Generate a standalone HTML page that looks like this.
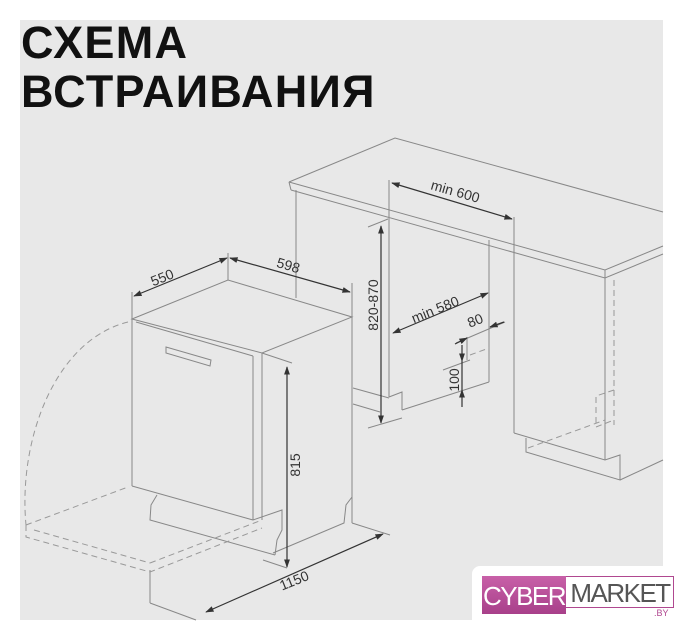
<!DOCTYPE html>
<html><head><meta charset="utf-8"><style>
html,body{margin:0;padding:0;background:#fff;}
body{width:684px;height:640px;position:relative;overflow:hidden;font-family:"Liberation Sans",sans-serif;}
.bg{position:absolute;left:20px;top:20px;width:643px;height:600px;background:#e8e8e8;}
.t{position:absolute;left:21px;font-weight:bold;font-size:45px;color:#111;letter-spacing:1.3px;line-height:1;}
svg{position:absolute;left:0;top:0;}
.logo{position:absolute;left:472px;top:566px;width:212px;height:60px;background:#fff;border-top-left-radius:8px;}
</style></head><body>
<div class="bg"></div>
<div class="t" style="top:20px">СХЕМА</div>
<div class="t" style="top:69px">ВСТРАИВАНИЯ</div>
<svg width="684" height="640" viewBox="0 0 684 640">
<defs>
<marker id="a" viewBox="0 0 10 10" refX="9" refY="5" markerWidth="7" markerHeight="7" orient="auto-start-reverse"><path d="M0,1.5 L10,5 L0,8.5 z" fill="#333"/></marker>
</defs>
<g fill="none" stroke="#888" stroke-width="1">
<polyline points="289,182 395,138 663,212"/>
<polyline points="289,182 605,270 663,246"/>
<polyline points="291,190 605,278 663,254"/>
<line x1="289" y1="182" x2="291" y2="190"/>
<line x1="605" y1="270" x2="605" y2="278"/>
<line x1="296" y1="190" x2="296" y2="298"/>
<line x1="389" y1="212" x2="389" y2="397"/>
<line x1="489" y1="240" x2="489" y2="382"/>
<line x1="514" y1="247" x2="514" y2="433"/>
<line x1="353" y1="388" x2="389" y2="398"/>
<line x1="353" y1="404" x2="380" y2="412"/>
<polyline points="389,397 402,392 402,410"/>
<line x1="402" y1="410" x2="489" y2="382"/>
<line x1="605" y1="278" x2="605" y2="460"/>
<polyline points="514,433 605,460 620,455 620,480 526,452 526,438"/>
<line x1="620" y1="480" x2="663" y2="460"/>
<polygon points="132,319 228,280 352,317 262,353"/>
<line x1="132" y1="319" x2="132" y2="486"/>
<line x1="136" y1="322" x2="253" y2="356"/>
<line x1="253" y1="356" x2="253" y2="520"/>
<line x1="262" y1="353" x2="262" y2="520"/>
<line x1="132" y1="486" x2="253" y2="520"/>
<polyline points="253,520 282,510 282,530 277,540 275,555"/>
<polyline points="157,495 151,505 150,520 275,555"/>
<line x1="352" y1="317" x2="352" y2="523"/>
<polyline points="352,497 346,505 344,523 273,553"/>
<line x1="352" y1="523" x2="390" y2="535"/>
<polygon points="166,347 211,360 210,366 166,353"/>
<line x1="150" y1="570" x2="150" y2="603"/>
<line x1="150" y1="603" x2="196" y2="620"/>
<line x1="263" y1="560" x2="287" y2="568"/>
<line x1="228" y1="253" x2="228" y2="280"/>
<line x1="132" y1="292" x2="132" y2="319"/>
<line x1="352" y1="283" x2="352" y2="317"/>
<line x1="389" y1="180" x2="389" y2="212"/>
<line x1="514" y1="217" x2="514" y2="247"/>
<line x1="368" y1="227" x2="388" y2="219"/>
<line x1="368" y1="428" x2="402" y2="418"/>
<line x1="262" y1="353" x2="292" y2="363"/>
<line x1="456" y1="343" x2="505" y2="322"/>
<line x1="467" y1="337" x2="467" y2="360"/>
<line x1="443" y1="370" x2="470" y2="360"/>
</g>
<g fill="none" stroke="#999" stroke-width="1" stroke-dasharray="6,4">
<path d="M128,322 C55,340 18,440 26,525"/>
<polyline points="26,525 128,487"/>
<polyline points="26,525 26,537 150,572 262,528"/>
<line x1="34" y1="530" x2="150" y2="563"/>
<line x1="150" y1="563" x2="262" y2="520"/>
<line x1="614" y1="280" x2="614" y2="425"/>
<polyline points="614,390 596,396 596,427 614,420"/>
<line x1="528" y1="448" x2="605" y2="420"/>
<line x1="470" y1="355" x2="489" y2="348"/>
</g>
<g stroke="#333" stroke-width="1.2" fill="none">
<line x1="134" y1="296" x2="227" y2="258" marker-start="url(#a)" marker-end="url(#a)"/>
<line x1="230" y1="258" x2="350" y2="292" marker-start="url(#a)" marker-end="url(#a)"/>
<line x1="392" y1="183" x2="512" y2="219" marker-start="url(#a)" marker-end="url(#a)"/>
<line x1="381" y1="226" x2="381" y2="423" marker-start="url(#a)" marker-end="url(#a)"/>
<line x1="393" y1="333" x2="488" y2="293" marker-start="url(#a)" marker-end="url(#a)"/>
<line x1="287" y1="367" x2="287" y2="567" marker-start="url(#a)" marker-end="url(#a)"/>
<line x1="206" y1="612" x2="383" y2="534" marker-start="url(#a)" marker-end="url(#a)"/>
<line x1="455" y1="344" x2="467" y2="338" marker-end="url(#a)"/>
<line x1="504" y1="322" x2="490" y2="327" marker-end="url(#a)"/>
<line x1="462" y1="345" x2="462" y2="361" marker-end="url(#a)"/>
<line x1="462" y1="407" x2="462" y2="390" marker-end="url(#a)"/>
<line x1="462" y1="361" x2="462" y2="390"/>
</g>
<g font-family="Liberation Sans, sans-serif" font-size="14" fill="#333">
<text transform="translate(164,282) rotate(-22)" text-anchor="middle">550</text>
<text transform="translate(287,270) rotate(16)" text-anchor="middle">598</text>
<text transform="translate(454,196) rotate(16)" text-anchor="middle">min 600</text>
<text transform="translate(378,305) rotate(-90)" text-anchor="middle">820-870</text>
<text transform="translate(437,314) rotate(-22)" text-anchor="middle">min 580</text>
<text transform="translate(477,325) rotate(-22)" text-anchor="middle">80</text>
<text transform="translate(459,380) rotate(-90)" text-anchor="middle">100</text>
<text transform="translate(300,465) rotate(-90)" text-anchor="middle">815</text>
<text transform="translate(296,585) rotate(-22)" text-anchor="middle">1150</text>
</g>
</svg>
<div class="logo">
<div style="position:absolute;left:10px;top:10px;width:84px;height:38px;background:linear-gradient(#c860a8,#a8408a);"></div>
<div style="position:absolute;left:10px;top:15px;width:84px;text-align:center;color:#fff;font-size:26px;letter-spacing:-1.5px;">CYBER</div>
<div style="position:absolute;left:94px;top:10px;width:107px;height:30px;border:1px solid #b04890;border-left:none;background:#fff;"></div>
<div style="position:absolute;left:94px;top:12px;width:108px;text-align:center;color:#555;font-size:26px;letter-spacing:-1.5px;">MARKET</div>
<div style="position:absolute;left:182px;top:42px;color:#b04890;font-size:9px;">.BY</div>
</div>
</body></html>
